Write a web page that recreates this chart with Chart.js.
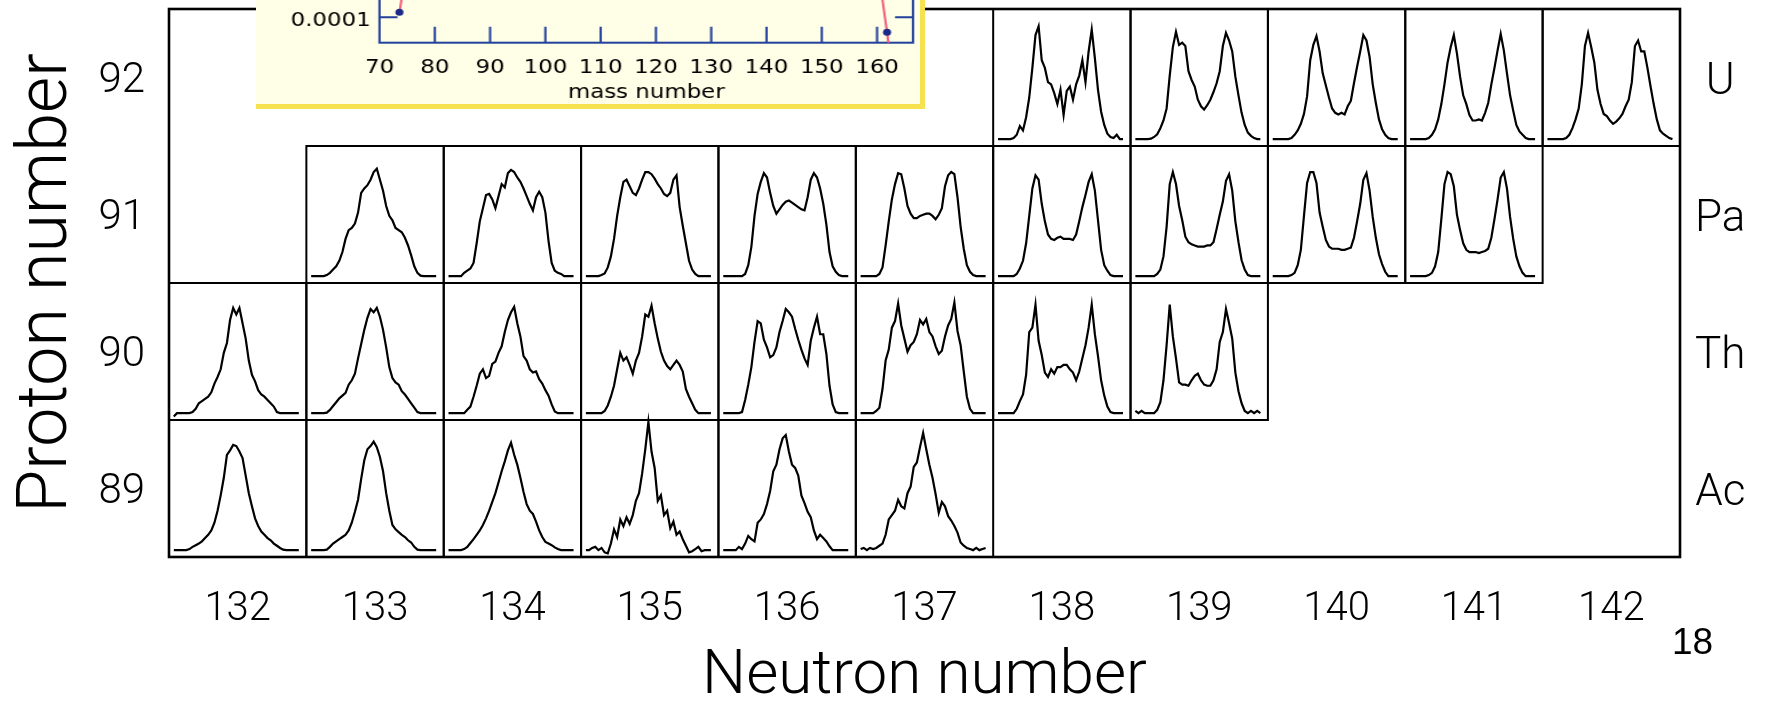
<!DOCTYPE html>
<html>
<head>
<meta charset="utf-8">
<script src="https://cdn.jsdelivr.net/npm/chart.js@4/dist/chart.umd.min.js"></script>
<style>
html,body{margin:0;padding:0;background:#fff;}
#wrap{position:relative;width:1766px;height:701px;overflow:hidden;background:#fff;}
#main{position:absolute;left:0;top:0;}
#inset{position:absolute;left:256px;top:-296px;width:664px;height:400px;background:#FFFEE6;border-right:5px solid #F6E24F;border-bottom:5px solid #F6E24F;}
#insetInner{position:absolute;left:0;top:0;width:580px;height:400px;transform:scaleX(1.1448);transform-origin:0 0;}
#page{position:absolute;left:1672px;top:623px;font-family:'Liberation Sans',Arial,sans-serif;font-size:37px;line-height:37px;color:#000;}
</style>
</head>
<body>
<div id="wrap">
  <canvas id="main" width="1766" height="701"></canvas>
  <div id="inset"><div id="insetInner"><canvas id="insetCanvas"></canvas></div></div>
  <div id="page">18</div>
</div>
<script>
// ---------- categories / tick labels ----------
const neutronNumbers = [132, 133, 134, 135, 136, 137, 138, 139, 140, 141, 142];
const protonNumbers  = [89, 90, 91, 92];
const elementSymbols = ['Ac', 'Th', 'Pa', 'U'];
const acNeutrons = [132, 133, 134, 135, 136, 137];
const thNeutrons = [132, 133, 134, 135, 136, 137, 138, 139];
const paNeutrons = [133, 134, 135, 136, 137, 138, 139, 140, 141];
const uNeutrons  = [138, 139, 140, 141, 142];

// ---------- relative fragment-mass yields (41 mass bins per nucleus) ----------
const ac221 = [0,0,0,0,0,1,3,4.5,6,8,11,14,18,25,36,50,66,87,91,96,95,90,84,68,52,40,29,22,17,14,11,9,6,4,2,0.5,0,0,0,0,0];
const ac222 = [0,0,0,0,0,0.5,3,6,8,10,12,14,18,25,35,46,65,82,92,95,99,94,85,72,52,36,23,19,16.5,14,12,9,7,3,0.5,0,0,0,0,0,0];
const ac223 = [0,0,0,0,0,1,3,6.5,10,14,18,23,29,36,44,52,62,72,81,91,98,87,78,66,53,42,36,33,26,18,12,7.5,6,4.5,2.5,1,0,0,0,0,0];
const ac224 = [0,0,2,3,0,2,-2,-3,6,19,12,28,22,30,24,32,45,52,70,92,117,90,75,45,50,32,36,20,26,14,17,10,4,-2,-1,1,3,-1,0,0,0];
const ac225 = [0,0,0,0,0,3,1,6,13,10,8,25,28,33,42,54,72,78,92,102,105,90,78,75,68,50,43,35,30,18,10,14,11,8,3.5,0,0,0,0,0,0];
const ac226 = [1,2,0,2,1,2,4,6,14,28,32,36,46,40,38,52,58,76,80,94,107,92,78,66,51,34,44,40,31,27,22,16,7,4,2,1,0,2,0,1,2];

const th222 = [-3,0,0,0,0,0,1,4,9,11,13,15,19,27,33,40,55,64,85,96,90,96,82,68,48,35,29,21,17,15,12,9,6,1,0,0,0,0,0,0,0];
const th223 = [0,0,0,0,0,0.5,3,6.5,10,13.5,16,18.5,26,30,36,50,63,76,87,95,92,96,88,76,60,42,32,28,26,20,17,13,9,5,1,0,0,0,0,0,0];
const th224 = [0,0,0,0,0,0,3,6,15,25,36,40,32,34,45,47,55,61,74,85,92,97,82,70,52,48,40,37,38,31,27,21,16,8,1.5,0,0,0,0,0,0];
const th225 = [0,0,0,0,0,0,2,7,15,25,40,55,48,51,44,36,48,55,70,90,88,98,82,68,56,48,43,40,44,48,44,38,22,15,9,3,0,0,0,0,0];
const th226 = [0,0,0,0,0,0,1,12,26,42,65,84,82,67,60,51,53,60,74,84,95,92,88,77,67,58,50,44,66,78,88,72,72,54,25,8,1,0,0,0,0];
const th227 = [0,0,0,0,0,2,5,22,48,58,78,84,100,80,68,56,62,65,72,85,81,86,74,70,61,54,57,70,80,86,101,75,62,38,15,4,0,0,0,0,0];
const th228 = [0,0,0,0,0,0,4,11,17,35,74,78,99,66,53,37,33,40,36,42,42,44,44,40,37,30,38,50,62,78,99,72,52,30,16,6,1,0,0,0,0];
const th229 = [2,0,2,0,0,0,0,3,10,30,62,99,70,50,28,26,26,25,30,34,36,30,26,25,25,30,40,65,74,95,82,68,37,20,9,2,0,2,0,2,0];

const pa224 = [0,0,0,0,0,1,3,6,9,14,22,34,42,44,48,58,76,80,83,88,95,98,88,78,64,55,51,44,42,40,35,28,19,9,3,0.5,0,0,0,0,0];
const pa225 = [0,0,0,0,0,3,5,7,12,30,50,62,74,75,70,62,73,84,81,94,97,95,90,86,80,73,66,60,72,77,72,58,32,12,5,3,2,0,0,0,0];
const pa226 = [0,0,0,0,0,1,2.5,8,18,34,55,72,86,88,82,76,74,80,88,95,95,93,89,84,80,75,73,76,88,92,63,46,30,14,6,2,0,0,0,0,0];
const pa227 = [0,0,0,0,0,0,0,2,10,27,55,75,86,94,90,76,64,57,61,65,68,69,67,65,63,61,60,72,88,94,90,80,66,47,22,9,4,1,0,0,0];
const pa228 = [0,0,0,0,0,0,2,8,28,50,70,84,94,93,80,64,57,53,53,55,56,57,57,55,52,56,62,82,92,95,93,72,45,25,10,4,1,0,0,0,0];
const pa229 = [0,0,0,0,0,0,2,7,14,30,55,80,92,88,66,50,38,34,33,35,36,34,34,34,33,38,50,63,74,86,93,78,51,24,10,5,1,0,0,0,0];
const pa230 = [0,0,0,0,0,0,0,2,6,18,45,84,95,84,64,51,36,31,29,28,27,27,27,28,28,31,43,56,68,87,93,78,50,31,14.5,6,1,0,0,0,0];
const pa231 = [0,0,0,0,0,0,1,3,10,24,55,85,95,95,85,58,45,33,27,25,25,25,24,24,25,26,35,50,66,88,94,78,54,35,20,11,4,0,0,0,0];
const pa232 = [0,0,0,0,0,0,1,3,9,22,52,84,95,93,82,56,42,30,24,22,22,22,21,22,23,25,35,52,70,90,95,80,54,34,18,9,3,0,0,0,0];

const u230 = [0,0,0,0,0,1,4,12,8,20,38,65,95,103,72,65,52,50,42,32,45,22,44,48,36,50,58,72,52,80,100,74,45,25,13,5,2,1,4,0,0];
const u231 = [0,0,0,0,0,0.5,2,4.5,10,17,28,58,84,98,86,88,85,62,54,48,36,30,27,31,36,43,51,62,85,97,90,80,57,40,24,13,6,3,1,0,0];
const u232 = [0,0,0,0,0,0,1,4,8,14,23,39,72,86,94,80,60,49,38,28,24,22.5,24,22.5,30,35,51,66,80,95,90,75,50,33,18,9,4,1,0,0,0];
const u233 = [0,0,0,0,0,0,1,4,9,18,32,50,70,84,95,78,57,40,32,22,17,17,18,17,24,33,50,65,81,96,81,60,40,26,13,7,4,1,0,0,0];
const u234 = [0,0,0,0,0,0,1,4,10,18,28,50,85,97,84,70,45,32,23,21,17,14,16,19,23,30,36,52,85,90,80,80,65,48,32,18,8,5,3,1,0];

// ---------- inset: mass yield curve (log scale) ----------
const insetMass  = [73.6, 74.5, 77, 80, 83, 86, 90, 95, 100, 104, 108, 112, 118, 124, 128, 131, 135, 140, 144, 148, 152, 155, 158, 160.5, 161.8, 162.3];
const insetYield = [1.37e-4, 1e-3, 8e-3, 0.05, 0.5, 1.5, 5.8, 6.5, 6.3, 1.9, 0.06, 0.013, 0.011, 0.02, 0.35, 2.9, 6.5, 6.2, 5.5, 1.7, 0.27, 0.03, 0.006, 1e-3, 3.9e-5, 1e-5];
const insetMassTicks  = [70, 80, 90, 100, 110, 120, 130, 140, 150, 160];
const insetYieldTicks = [0.0001, 0.001, 0.01, 0.1, 1, 10];

// ---------- build the main chart ----------
Chart.defaults.font.family = "Roboto, 'DejaVu Sans', sans-serif";
Chart.defaults.color = '#000';

const rows = [
  {z: 89, neutrons: acNeutrons, yields: [ac221, ac222, ac223, ac224, ac225, ac226]},
  {z: 90, neutrons: thNeutrons, yields: [th222, th223, th224, th225, th226, th227, th228, th229]},
  {z: 91, neutrons: paNeutrons, yields: [pa224, pa225, pa226, pa227, pa228, pa229, pa230, pa231, pa232]},
  {z: 92, neutrons: uNeutrons,  yields: [u230, u231, u232, u233, u234]}
];

// placement of each mini-distribution inside its (N,Z) cell
const X0 = 0.035, X1 = 0.945, BASE = 0.05, VSCALE = 0.008;

const datasets = [];
rows.forEach(r => r.neutrons.forEach((n, k) => {
  const ys = r.yields[k];
  datasets.push({
    label: elementSymbols[protonNumbers.indexOf(r.z)] + '-' + (r.z + n),
    data: ys.map((v, i) => ({
      x: n - 0.5 + X0 + (X1 - X0) * i / (ys.length - 1),
      y: r.z - 0.5 + BASE + v * VSCALE
    })),
    showLine: true,
    borderColor: '#000',
    borderWidth: 2.2,
    pointRadius: 0,
    tension: 0,
    fill: false
  });
}));

const cellPlugin = {
  id: 'cells',
  afterDatasetsDraw(chart) {
    const {ctx, chartArea: a, scales: {x, y}} = chart;
    ctx.save();
    ctx.strokeStyle = '#000';
    ctx.lineWidth = 2;
    rows.forEach(r => r.neutrons.forEach(n => {
      const x0 = x.getPixelForValue(n - 0.5), x1 = x.getPixelForValue(n + 0.5);
      const y0 = y.getPixelForValue(r.z + 0.5), y1 = y.getPixelForValue(r.z - 0.5);
      ctx.strokeRect(x0, y0, x1 - x0, y1 - y0);
    }));
    ctx.lineWidth = 2.6;
    ctx.strokeRect(a.left, a.top, a.right - a.left, a.bottom - a.top);
    ctx.restore();
  }
};

function noPad(s) { s.paddingTop = 0; s.paddingBottom = 0; s.paddingLeft = 0; s.paddingRight = 0; }

new Chart(document.getElementById('main'), {
  type: 'scatter',
  data: {datasets},
  plugins: [cellPlugin],
  options: {
    responsive: false,
    devicePixelRatio: 1,
    animation: false,
    events: [],
    layout: {padding: {top: 9, left: 0, right: 0, bottom: 0}},
    plugins: {legend: {display: false}, tooltip: {enabled: false}},
    scales: {
      x: {
        type: 'linear', position: 'bottom', min: 131.5, max: 142.5,
        afterBuildTicks: s => { s.ticks = neutronNumbers.map(v => ({value: v})); },
        afterFit: s => { s.height = 144; noPad(s); },
        grid: {display: false, drawTicks: false},
        border: {display: false},
        ticks: {padding: 32.5, autoSkip: false, maxRotation: 0, color: '#000',
                font: {size: 40, weight: '300', lineHeight: 1}, callback: v => String(v)},
        title: {display: true, text: 'Neutron number', color: '#000',
                font: {size: 62, weight: '300', lineHeight: 0.75}, padding: {top: 0, bottom: 0}}
      },
      y: {
        type: 'linear', position: 'left', min: 88.5, max: 92.5,
        afterBuildTicks: s => { s.ticks = protonNumbers.map(v => ({value: v})); },
        afterFit: s => { s.width = 169; noPad(s); },
        grid: {display: false, drawTicks: false},
        border: {display: false},
        ticks: {padding: 24, labelOffset: 4, color: '#000', font: {size: 42, weight: '300', lineHeight: 1},
                callback: v => String(v)},
        title: {display: true, text: 'Proton number', color: '#000',
                font: {size: 70, weight: '300', lineHeight: 1}, padding: {top: 13, bottom: 0}}
      },
      y2: {
        type: 'linear', position: 'right', min: 88.5, max: 92.5,
        afterBuildTicks: s => { s.ticks = protonNumbers.map(v => ({value: v})); },
        afterFit: s => { s.width = 86; noPad(s); },
        grid: {display: false, drawTicks: false},
        border: {display: false},
        ticks: {padding: 15, labelOffset: 5, crossAlign: 'center', color: '#000',
                font: {size: 44, weight: '300', lineHeight: 1},
                callback: v => elementSymbols[protonNumbers.indexOf(v)]}
      }
    }
  }
});

// ---------- inset chart ----------
const insetAxesPlugin = {
  id: 'insetAxes',
  beforeDatasetsDraw(chart) {
    const {ctx, chartArea: a, scales: {x, y}} = chart;
    ctx.save();
    ctx.strokeStyle = '#22409C';
    ctx.lineWidth = 2;
    ctx.strokeRect(a.left, a.top, a.right - a.left, a.bottom - a.top);
    ctx.beginPath();
    x.ticks.forEach(t => {
      if (t.value <= x.min) return;
      const px = x.getPixelForValue(t.value);
      ctx.moveTo(px, a.bottom); ctx.lineTo(px, a.bottom - 16);
    });
    y.ticks.forEach(t => {
      const py = y.getPixelForValue(t.value);
      ctx.moveTo(a.left, py); ctx.lineTo(a.left + 15.7, py);
      ctx.moveTo(a.right, py); ctx.lineTo(a.right - 15.7, py);
    });
    ctx.stroke();
    ctx.restore();
  }
};

new Chart(document.getElementById('insetCanvas'), {
  type: 'scatter',
  data: {
    datasets: [{
      data: insetMass.map((m, i) => ({x: m, y: insetYield[i]})),
      showLine: true,
      borderColor: '#F25C7A',
      borderWidth: 2,
      pointRadius: 3.5,
      pointBackgroundColor: '#1B2A8A',
      pointBorderWidth: 0,
      tension: 0
    }]
  },
  plugins: [insetAxesPlugin],
  options: {
    responsive: true,
    maintainAspectRatio: false,
    devicePixelRatio: 1,
    animation: false,
    events: [],
    layout: {padding: {top: 131.8, right: 6.1, bottom: 0, left: 0}},
    plugins: {legend: {display: false}, tooltip: {enabled: false}},
    scales: {
      x: {
        type: 'linear', min: 70, max: 166.5,
        afterBuildTicks: s => { s.ticks = insetMassTicks.map(v => ({value: v})); },
        afterFit: s => { s.height = 61.3; },
        grid: {display: false, drawTicks: false},
        border: {display: false},
        ticks: {padding: 15, autoSkip: false, maxRotation: 0, color: '#000',
                font: {family: "'DejaVu Sans', sans-serif", size: 20, lineHeight: 1},
                callback: v => String(v)},
        title: {display: true, text: 'mass number', color: '#000',
                font: {family: "'DejaVu Sans', sans-serif", size: 20, lineHeight: 1},
                padding: {top: 0, bottom: 1.6}}
      },
      y: {
        type: 'logarithmic', min: 2e-5, max: 10,
        afterBuildTicks: s => { s.ticks = insetYieldTicks.map(v => ({value: v})); },
        afterFit: s => { s.width = 107.9; },
        grid: {display: false, drawTicks: false},
        border: {display: false},
        ticks: {padding: 7.7, labelOffset: 3, color: '#000',
                font: {family: "'DejaVu Sans', sans-serif", size: 20, lineHeight: 1},
                callback: v => String(v)}
      }
    }
  }
});
</script>
</body>
</html>
